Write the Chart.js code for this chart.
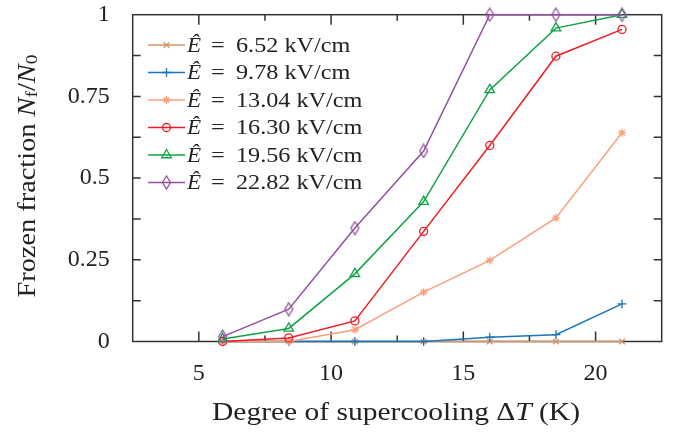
<!DOCTYPE html>
<html>
<head>
<meta charset="utf-8">
<script src="https://cdn.jsdelivr.net/npm/chart.js@4.4.1/dist/chart.umd.min.js"></script>
<style>
  html, body { margin: 0; padding: 0; background: #fff; }
  canvas { display: block; }
</style>
</head>
<body>
<canvas id="chart" width="674" height="433"></canvas>
<script>
// supercooling (K) at which each run was evaluated
const supercooling = [5.9, 8.4, 10.9, 13.5, 16.0, 18.5, 21.0];

// frozen fraction for each field strength
const frozen652 = [0, 0, 0, 0, 0, 0, 0];
const frozen978 = [0, 0, 0, 0, 0.013, 0.021, 0.115];
const frozen1304 = [0, 0, 0.036, 0.151, 0.248, 0.378, 0.639];
const frozen1630 = [0, 0.011, 0.063, 0.337, 0.600, 0.873, 0.955];
const frozen1956 = [0.008, 0.04, 0.207, 0.428, 0.770, 0.959, 1.0];
const frozen2282 = [0.015, 0.099, 0.347, 0.583, 1.0, 1.0, 1.0];

const fieldLabels = ['6.52', '9.78', '13.04', '16.30', '19.56', '22.82'];
const xTickLabels = [5, 10, 15, 20];
const yTickLabels = [0, 0.25, 0.5, 0.75, 1];

const SERIF = '"Liberation Serif", "Times New Roman", serif';
const INK = '#222';

// narrow diamond marker
function diamond(color) {
    const c = document.createElement('canvas');
    c.width = 11; c.height = 15;
    const g = c.getContext('2d');
    g.strokeStyle = color;
    g.lineWidth = 1.3;
    g.beginPath();
    g.moveTo(5.5, 1); g.lineTo(9.5, 7.5); g.lineTo(5.5, 14); g.lineTo(1.5, 7.5);
    g.closePath();
    g.stroke();
    return c;
}

const styles = [
    { color: '#d4956c', point: 'crossRot', r: 4 },
    { color: '#1b75bc', point: 'cross', r: 4.5 },
    { color: '#f6a27f', point: 'star', r: 4 },
    { color: '#ed1c24', point: 'circle', r: 4 },
    { color: '#10a346', point: 'triangle', r: 5.5 },
    { color: '#9250a0', point: null, r: 6 }
];
styles[5].point = diamond(styles[5].color);

const series = [frozen652, frozen978, frozen1304, frozen1630, frozen1956, frozen2282];

const datasets = series.map((vals, i) => ({
    label: fieldLabels[i],
    data: vals.map((v, j) => ({ x: supercooling[j], y: v })),
    borderColor: styles[i].color,
    backgroundColor: 'rgba(0,0,0,0)',
    borderWidth: 1.5,
    pointStyle: styles[i].point,
    pointRadius: styles[i].r,
    pointBorderWidth: 1.3,
    pointBorderColor: styles[i].color,
    pointBackgroundColor: 'rgba(0,0,0,0)',
    tension: 0,
    clip: false,
    order: series.length - i
}));

// writes a run of [text, style, size, dy] pieces, stretched sideways by sx
function runWidth(ctx, parts) {
    let w = 0;
    parts.forEach(p => { ctx.font = p[1] + p[2] + 'px ' + SERIF; w += ctx.measureText(p[0]).width; });
    return w;
}
function drawRun(ctx, parts, x, y, sx) {
    ctx.save();
    ctx.translate(x, y);
    ctx.scale(sx, 1);
    let cx = 0;
    parts.forEach(p => {
        ctx.font = p[1] + p[2] + 'px ' + SERIF;
        ctx.fillText(p[0], cx, p[3]);
        cx += ctx.measureText(p[0]).width;
    });
    ctx.restore();
}

// draws the frame, inward ticks, legend and axis titles
const framePlugin = {
    id: 'frame',
    beforeDatasetsDraw(chart) {
        const { ctx, chartArea: a, scales } = chart;
        ctx.save();
        ctx.strokeStyle = '#333';
        ctx.lineWidth = 1.5;
        ctx.strokeRect(a.left, a.top, a.right - a.left, a.bottom - a.top);
        ctx.beginPath();
        scales.x.ticks.forEach(t => {
            const px = scales.x.getPixelForValue(t.value);
            if (px <= a.left + 1 || px >= a.right - 1) return;
            const len = t.value % 5 === 0 ? 10 : 6;
            ctx.moveTo(px, a.bottom); ctx.lineTo(px, a.bottom - len);
            ctx.moveTo(px, a.top); ctx.lineTo(px, a.top + len);
        });
        scales.y.ticks.forEach(t => {
            const py = scales.y.getPixelForValue(t.value);
            if (py <= a.top + 1 || py >= a.bottom - 1) return;
            ctx.moveTo(a.left, py); ctx.lineTo(a.left + 8, py);
            ctx.moveTo(a.right, py); ctx.lineTo(a.right - 8, py);
        });
        ctx.stroke();
        ctx.restore();
    },
    afterDraw(chart) {
        const { ctx, chartArea: a } = chart;
        ctx.save();
        ctx.fillStyle = INK;
        ctx.textBaseline = 'middle';
        ctx.textAlign = 'left';

        // legend
        chart.data.datasets.forEach((ds, i) => {
            const y = 45 + i * 27.5;
            ctx.strokeStyle = ds.borderColor;
            ctx.lineWidth = 1.5;
            ctx.beginPath();
            ctx.moveTo(148, y); ctx.lineTo(185, y);
            ctx.stroke();
            const ps = ds.pointStyle;
            if (typeof ps === 'string') {
                ctx.fillStyle = 'rgba(0,0,0,0)';
                ctx.lineWidth = 1.3;
                Chart.helpers.drawPoint(ctx, { pointStyle: ps, radius: ds.pointRadius, borderWidth: 1.3 }, 166.5, y);
            } else {
                ctx.drawImage(ps, 166.5 - ps.width / 2, y - ps.height / 2);
            }
            ctx.fillStyle = INK;
            drawRun(ctx, [['\u00CA', 'italic ', 22, 0]], 187, y + 1, 1.05);
            drawRun(ctx, [['=', '', 22, 0]], 211, y + 1, 1.1);
            drawRun(ctx, [[fieldLabels[i] + ' kV/cm', '', 22, 0]], 236, y + 1, 1.1);
        });

        // x axis title
        const xParts = [
            ['Degree of supercooling ', '', 25, 0], ['\u0394', '', 25, 0],
            ['T', 'italic ', 25, 0], [' (K)', '', 25, 0]
        ];
        const xTarget = 368;
        const xw = runWidth(ctx, xParts);
        drawRun(ctx, xParts, 212, 413, xTarget / xw);

        // y axis title, rotated
        ctx.translate(28, (a.top + a.bottom) / 2);
        ctx.rotate(-Math.PI / 2);
        const yParts = [
            ['Frozen fraction ', '', 25, 0], ['N', 'italic ', 25, 0], ['f', '', 17, 5],
            ['/', '', 25, 0], ['N', 'italic ', 25, 0], ['0', '', 17, 5]
        ];
        const yTarget = 243;
        const yw = runWidth(ctx, yParts);
        drawRun(ctx, yParts, -yTarget / 2 + 2, 0, yTarget / yw);
        ctx.restore();
    }
};

const noPad = s => { s.paddingLeft = 0; s.paddingRight = 0; s.paddingTop = 0; s.paddingBottom = 0; };

new Chart(document.getElementById('chart').getContext('2d'), {
    type: 'line',
    data: { datasets },
    options: {
        responsive: false,
        animation: false,
        devicePixelRatio: 1,
        layout: { padding: { top: 14.7, right: 12.3, left: 0, bottom: 0 } },
        plugins: { legend: { display: false }, tooltip: { enabled: false } },
        scales: {
            x: {
                type: 'linear',
                min: 2.5, max: 22.5,
                grid: { display: false, drawTicks: false },
                border: { display: false },
                afterFit: s => { s.height = 91.5; noPad(s); },
                afterBuildTicks: s => {
                    s.ticks = [];
                    for (let v = 2.5; v <= 22.5; v += 2.5) s.ticks.push({ value: v });
                },
                ticks: {
                    autoSkip: false,
                    maxRotation: 0,
                    padding: 18,
                    color: INK,
                    font: { family: SERIF, size: 24 },
                    callback: v => xTickLabels.includes(v) ? String(v) : ''
                }
            },
            y: {
                min: 0, max: 1,
                grid: { display: false, drawTicks: false },
                border: { display: false },
                afterFit: s => { s.width = 132.7; noPad(s); },
                afterBuildTicks: s => {
                    s.ticks = [];
                    for (let k = 0; k <= 8; k++) s.ticks.push({ value: k * 0.125 });
                },
                ticks: {
                    autoSkip: false,
                    padding: 23,
                    color: INK,
                    font: { family: SERIF, size: 24 },
                    callback: v => yTickLabels.includes(v) ? String(v) : ''
                }
            }
        }
    },
    plugins: [framePlugin]
});
</script>
</body>
</html>
